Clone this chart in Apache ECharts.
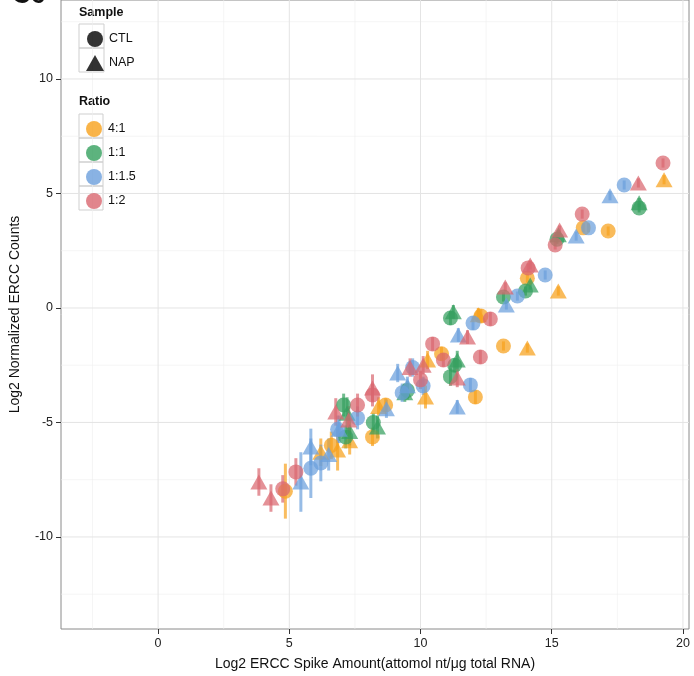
<!DOCTYPE html>
<html><head><meta charset="utf-8">
<script src="https://cdn.jsdelivr.net/npm/echarts@6/dist/echarts.min.js"></script>
<style>html,body{margin:0;padding:0;background:#fff}#c{width:694px;height:676px}</style>
</head><body><div id="c"></div>
<script>
// ---- data: [log2 spike amount, log2 normalized counts, error half-width]
const ctl41 = [[17.15,3.36,0.2],[16.2,3.5,0.2],[14.07,1.3,0.2],[13.16,-1.66,0.2],[12.09,-3.89,0.3],[12.3,-0.35,0.3],[10.8,-2.0,0.3],[8.67,-4.24,0.3],[8.17,-5.63,0.4],[6.6,-6.0,0.6],[4.85,-8.0,1.2]];
const nap41 = [[19.28,5.6,0.2],[15.25,0.74,0.2],[14.07,-1.75,0.2],[12.2,-0.3,0.3],[10.27,-2.27,0.4],[10.19,-3.89,0.5],[8.4,-4.3,0.4],[7.3,-5.8,0.6],[6.84,-6.2,0.9],[6.2,-6.3,0.6]];
const ctl11 = [[18.33,4.37,0.2],[15.2,3.0,0.2],[14.0,0.74,0.2],[13.16,0.48,0.2],[11.14,-0.44,0.3],[11.14,-3.0,0.4],[11.3,-2.5,0.3],[9.5,-3.6,0.4],[8.2,-5.0,0.4],[7.15,-5.63,0.5],[7.07,-4.24,0.5]];
const nap11 = [[18.33,4.6,0.2],[15.25,3.2,0.2],[14.18,1.0,0.2],[11.25,-0.17,0.3],[11.4,-2.27,0.4],[9.4,-3.7,0.4],[8.36,-5.2,0.5],[7.2,-4.6,0.7],[7.3,-5.4,0.6]];
const ctl115 = [[17.76,5.37,0.2],[16.4,3.5,0.2],[14.75,1.44,0.2],[13.69,0.52,0.2],[12.0,-0.66,0.3],[11.9,-3.36,0.3],[9.3,-3.7,0.4],[9.7,-2.6,0.4],[10.1,-3.4,0.4],[7.6,-4.8,0.5],[6.84,-5.3,0.6],[6.2,-6.77,0.8],[5.82,-7.0,1.3]];
const nap115 = [[17.22,4.9,0.2],[15.93,3.14,0.2],[13.27,0.13,0.2],[11.44,-1.18,0.3],[11.4,-4.32,0.3],[9.13,-2.84,0.4],[9.5,-3.4,0.4],[8.7,-4.4,0.4],[6.9,-5.3,0.6],[5.82,-6.07,0.8],[5.44,-7.6,1.3],[6.5,-6.4,0.7]];
const ctl12 = [[19.24,6.33,0.2],[16.16,4.1,0.2],[15.13,2.75,0.2],[14.1,1.75,0.2],[12.66,-0.48,0.3],[12.28,-2.14,0.3],[10.46,-1.57,0.3],[10.87,-2.27,0.3],[10.0,-3.14,0.4],[8.17,-3.8,0.5],[7.6,-4.24,0.5],[5.25,-7.16,0.6],[4.75,-7.9,0.6]];
const nap12 = [[18.3,5.46,0.2],[15.3,3.4,0.2],[14.18,1.88,0.2],[13.23,0.92,0.2],[11.79,-1.27,0.3],[11.4,-3.06,0.4],[9.6,-2.6,0.4],[10.1,-2.5,0.4],[8.17,-3.5,0.6],[6.77,-4.54,0.6],[7.26,-4.89,0.6],[3.84,-7.6,0.6],[4.3,-8.3,0.6]];

const ratios = ['4:1','1:1','1:1.5','1:2'];
const samples = ['CTL','NAP'];
const xTicks = [0,5,10,15,20];
const yTicks = [-10,-5,0,5,10];
const xMinor = [-2.5,2.5,7.5,12.5,17.5];
const yMinor = [-12.5,-7.5,-2.5,2.5,7.5,12.5];
const xLabel = 'Log2 ERCC Spike Amount(attomol nt/μg total RNA)';
const yLabel = 'Log2 Normalized ERCC Counts';

const colors = {'4:1':'#f7a11c','1:1':'#35a05e','1:1.5':'#6b9fdc','1:2':'#d9666f'};
const groups = [
  ['4:1','CTL',ctl41],['4:1','NAP',nap41],
  ['1:1','CTL',ctl11],['1:1','NAP',nap11],
  ['1:1.5','CTL',ctl115],['1:1.5','NAP',nap115],
  ['1:2','CTL',ctl12],['1:2','NAP',nap12]
];
const FONT = '"Liberation Sans", Arial, Helvetica, sans-serif';
const X_MIN = -3.7, X_MAX = 20.23, Y_MIN = -14.02, Y_MAX = 13.45;

function gridSeries(vals, vertical, width, color){
  return {
    type:'custom', silent:true, z:0, animation:false,
    data: vals.map(v => vertical ? [v, 0] : [0, v]),
    renderItem: function(params, api){
      const cs = params.coordSys;
      if (vertical){
        const p = api.coord([api.value(0), Y_MIN]);
        return {type:'line', shape:{x1:p[0],y1:cs.y,x2:p[0],y2:cs.y+cs.height}, style:{stroke:color,lineWidth:width}};
      } else {
        const p = api.coord([X_MIN, api.value(1)]);
        return {type:'line', shape:{x1:cs.x,y1:p[1],x2:cs.x+cs.width,y2:p[1]}, style:{stroke:color,lineWidth:width}};
      }
    }
  };
}

const series = [
  gridSeries(xMinor,true,0.6,'#efefef'),
  gridSeries(yMinor,false,0.6,'#efefef'),
  gridSeries(xTicks,true,1,'#e4e4e4'),
  gridSeries(yTicks,false,1,'#e4e4e4')
];
groups.forEach(([r,s,arr]) => {
  const col = colors[r];
  series.push({
    type:'custom', name:r+' '+s+' err', silent:true, z:2, animation:false,
    data: arr,
    renderItem: function(params, api){
      const x = api.value(0), y = api.value(1), e = api.value(2);
      const a = api.coord([x, y - e]), b = api.coord([x, y + e]);
      return {type:'line', shape:{x1:a[0],y1:a[1],x2:b[0],y2:b[1]}, style:{stroke:col,lineWidth:3,opacity:0.7}};
    }
  });
  series.push({
    type:'scatter', name:r+' '+s, z:3, animation:false,
    symbol: s === 'CTL' ? 'circle' : 'triangle',
    symbolSize: s === 'CTL' ? 15 : [17,15],
    itemStyle:{color:col, opacity:0.72},
    data: arr.map(d => [d[0], d[1]])
  });
});
// legend-only series
samples.forEach(s => series.push({type:'scatter', name:s, data:[], itemStyle:{color:'#000'}, symbol: s==='CTL'?'circle':'triangle'}));
ratios.forEach(r => series.push({type:'scatter', name:r, data:[], itemStyle:{color:colors[r]}, symbol:'circle'}));

const chart = echarts.init(document.getElementById('c'), null, {renderer:'canvas'});
chart.setOption({
  animation:false,
  backgroundColor:'#fff',
  textStyle:{fontFamily:FONT},
  grid:{left:60, right:5, top:0, bottom:47, show:true, borderColor:'#8a8a8a', borderWidth:1, backgroundColor:'transparent'},
  xAxis:{
    type:'value', min:X_MIN, max:X_MAX,
    axisLine:{show:false, onZero:false},
    axisTick:{show:true, length:5, lineStyle:{color:'#333'}, customValues:xTicks},
    axisLabel:{color:'#222', fontSize:12.5, fontFamily:FONT, margin:8, customValues:xTicks},
    splitLine:{show:false},
    name:xLabel, nameLocation:'middle', nameGap:28,
    nameTextStyle:{color:'#111', fontSize:14, fontFamily:FONT}
  },
  yAxis:{
    type:'value', min:Y_MIN, max:Y_MAX,
    axisLine:{show:false, onZero:false},
    axisTick:{show:true, length:5, lineStyle:{color:'#333'}, customValues:yTicks},
    axisLabel:{color:'#222', fontSize:12.5, fontFamily:FONT, margin:8, customValues:yTicks},
    splitLine:{show:false},
    name:yLabel, nameLocation:'middle', nameGap:39, nameRotate:90,
    nameTextStyle:{color:'#111', fontSize:14, fontFamily:FONT}
  },
  legend:[
    {data:samples, orient:'vertical', left:81, top:26, itemWidth:18, itemHeight:16, itemGap:8,
     textStyle:{fontSize:12.5, color:'#111', fontFamily:FONT}, selectedMode:false},
    {data:ratios, orient:'vertical', left:81, top:116, itemWidth:18, itemHeight:16, itemGap:8,
     textStyle:{fontSize:12.5, color:'#111', fontFamily:FONT}, selectedMode:false}
  ],
  graphic:[
    {type:'text', left:12, top:-17, style:{text:'C6', font:'bold 26px '+FONT, fill:'#111'}},
    {type:'text', left:79, top:6, style:{text:'Sample', font:'bold 12.5px '+FONT, fill:'#111'}},
    {type:'text', left:79, top:95, style:{text:'Ratio', font:'bold 12.5px '+FONT, fill:'#111'}},
    {type:'rect', shape:{x:79,y:24,width:25,height:24}, style:{fill:'none',stroke:'#cfcfcf',lineWidth:1}, z:-1},
    {type:'rect', shape:{x:79,y:48,width:25,height:24}, style:{fill:'none',stroke:'#cfcfcf',lineWidth:1}, z:-1},
    {type:'rect', shape:{x:79,y:114,width:24,height:24}, style:{fill:'none',stroke:'#cfcfcf',lineWidth:1}, z:-1},
    {type:'rect', shape:{x:79,y:138,width:24,height:24}, style:{fill:'none',stroke:'#cfcfcf',lineWidth:1}, z:-1},
    {type:'rect', shape:{x:79,y:162,width:24,height:24}, style:{fill:'none',stroke:'#cfcfcf',lineWidth:1}, z:-1},
    {type:'rect', shape:{x:79,y:186,width:24,height:24}, style:{fill:'none',stroke:'#cfcfcf',lineWidth:1}, z:-1}
  ],
  series: series
});
</script></body></html>
